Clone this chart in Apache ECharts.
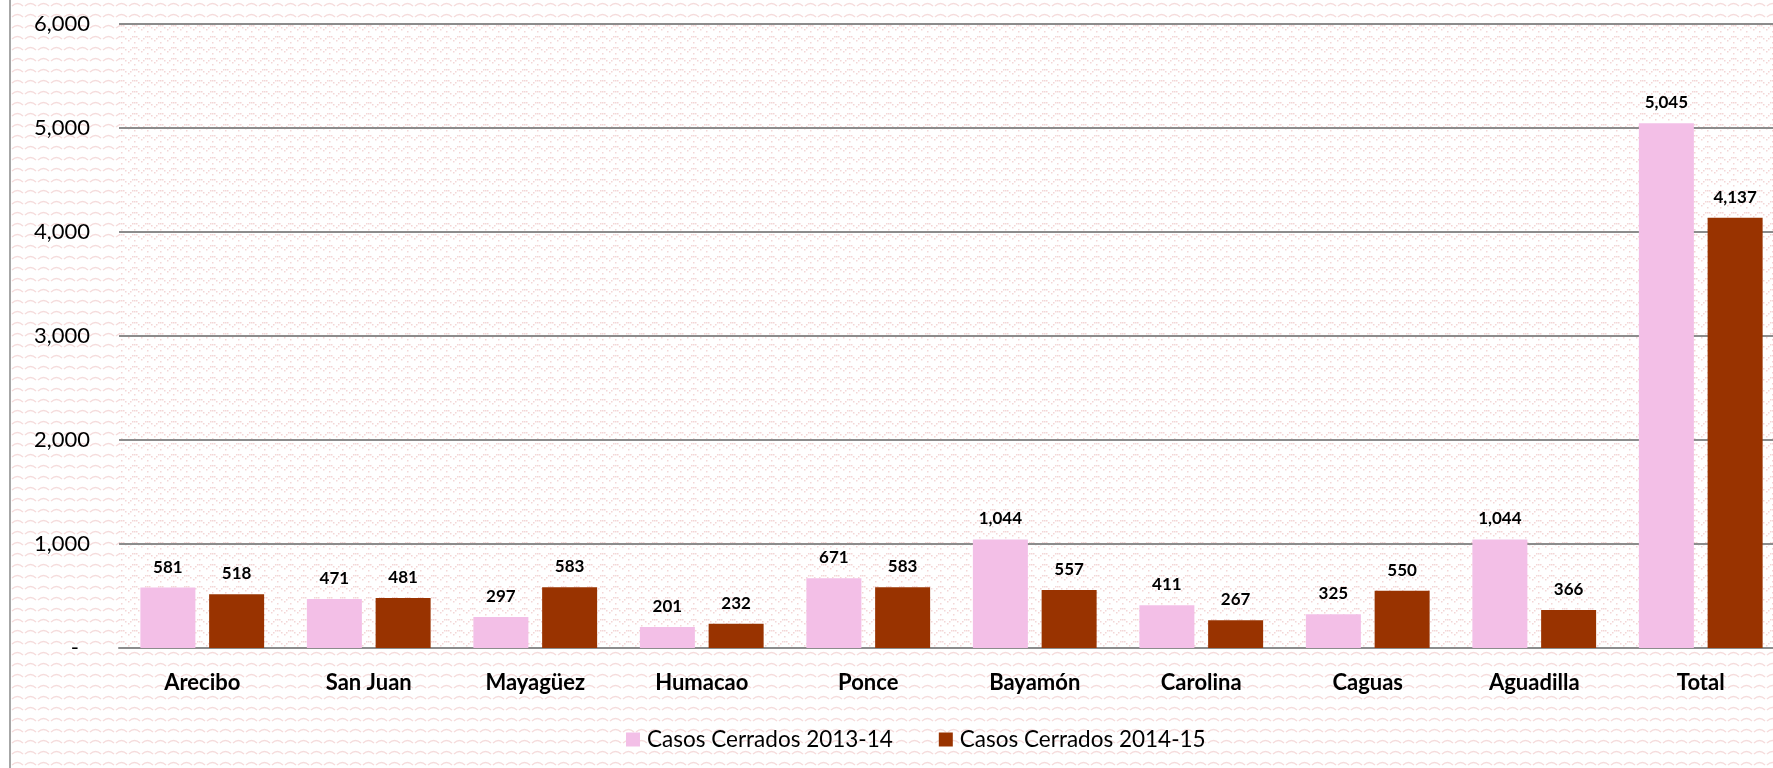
<!DOCTYPE html>
<html>
<head>
<meta charset="utf-8">
<title>Casos Cerrados</title>
<script src="https://cdn.jsdelivr.net/npm/echarts@6/dist/echarts.min.js"></script>
<style>
  html, body { margin: 0; padding: 0; background: #fff; overflow: hidden; }
  #wrap { position: absolute; left: 9px; top: 0; width: 1762px; height: 768px; border-left: 2px solid #a6a6a6; overflow: hidden; }
  #chart { width: 1800px; height: 768px; }
</style>
</head>
<body>
<div id="wrap"><div id="chart"></div></div>
<script>
/* datos */
const regiones = ['Arecibo', 'San Juan', 'Mayagüez', 'Humacao', 'Ponce', 'Bayamón', 'Carolina', 'Caguas', 'Aguadilla', 'Total'];
const casos1314 = [581, 471, 297, 201, 671, 1044, 411, 325, 1044, 5045];
const casos1415 = [518, 481, 583, 232, 583, 557, 267, 550, 366, 4137];
const nombres = ['Casos Cerrados 2013-14', 'Casos Cerrados 2014-15'];
const colores = ['#f3bfe7', '#993300'];

/* fondo con ondas (afuera del area de trazado) */
function patronOndas() {
  const c = document.createElement('canvas');
  c.width = 13; c.height = 11;
  const ctx = c.getContext('2d');
  ctx.fillStyle = '#ffffff';
  ctx.fillRect(0, 0, 13, 11);
  ctx.strokeStyle = '#f5dcdc';
  ctx.lineWidth = 1.4;
  ctx.beginPath();
  ctx.moveTo(1, 6);
  ctx.quadraticCurveTo(6.5, 1, 12, 6);
  ctx.stroke();
  return c;
}

/* fondo punteado (dentro del area de trazado) */
function patronPuntos() {
  const c = document.createElement('canvas');
  c.width = 13; c.height = 11;
  const ctx = c.getContext('2d');
  ctx.fillStyle = '#ffffff';
  ctx.fillRect(0, 0, 13, 11);
  ctx.fillStyle = '#f3d6d6';
  const pts = [[0, 7], [2, 5], [4, 3], [6, 3], [8, 3], [10, 5], [6, 9]];
  pts.forEach(p => ctx.fillRect(p[0], p[1], 1.5, 1.5));
  return c;
}

const fmt = v => v.toLocaleString('en-US');
const fuente = 'Lato, "Open Sans", sans-serif';

const chart = echarts.init(document.getElementById('chart'));
const option = {
  backgroundColor: { image: patronOndas(), repeat: 'repeat' },
  textStyle: { fontFamily: fuente },
  animation: false,
  grid: {
    left: 108,
    top: 24,
    width: 1665,
    height: 624,
    show: true,
    borderWidth: 0,
    backgroundColor: { image: patronPuntos(), repeat: 'repeat' }
  },
  legend: {
    left: 610,
    top: 723,
    itemWidth: 14,
    itemHeight: 14,
    itemGap: 46,
    icon: 'rect',
    textStyle: { fontSize: 22.5, color: '#000', fontFamily: fuente, padding: [0, 0, 0, 2] },
    data: nombres
  },
  xAxis: {
    type: 'category',
    data: regiones,
    axisLine: { lineStyle: { color: '#8c8c8c', width: 2 } },
    axisTick: { show: false },
    axisLabel: { fontSize: 22, fontWeight: 'bold', color: '#000', margin: 24, fontFamily: fuente }
  },
  yAxis: {
    type: 'value',
    min: 0,
    max: 6000,
    interval: 1000,
    axisLine: { show: false },
    axisTick: { show: false },
    splitLine: { lineStyle: { color: '#8c8c8c', width: 2 } },
    axisLabel: {
      fontSize: 22,
      color: '#000',
      margin: 29,
      fontFamily: fuente,
      formatter: v => v === 0 ? '{d|-}' : fmt(v),
      rich: { d: { fontSize: 22, padding: [0, 11, 0, 0] } }
    }
  },
  series: [
    {
      name: nombres[0],
      type: 'bar',
      data: casos1314,
      barWidth: 55,
      barGap: '25%',
      itemStyle: { color: colores[0] },
      label: { show: true, position: 'top', distance: 12, fontSize: 17, fontWeight: 'bold', color: '#000', formatter: p => fmt(p.value) }
    },
    {
      name: nombres[1],
      type: 'bar',
      data: casos1415,
      barWidth: 55,
      barGap: '25%',
      itemStyle: { color: colores[1] },
      label: { show: true, position: 'top', distance: 12, fontSize: 17, fontWeight: 'bold', color: '#000', formatter: p => fmt(p.value) }
    }
  ]
};
chart.setOption(option);
</script>
</body>
</html>
